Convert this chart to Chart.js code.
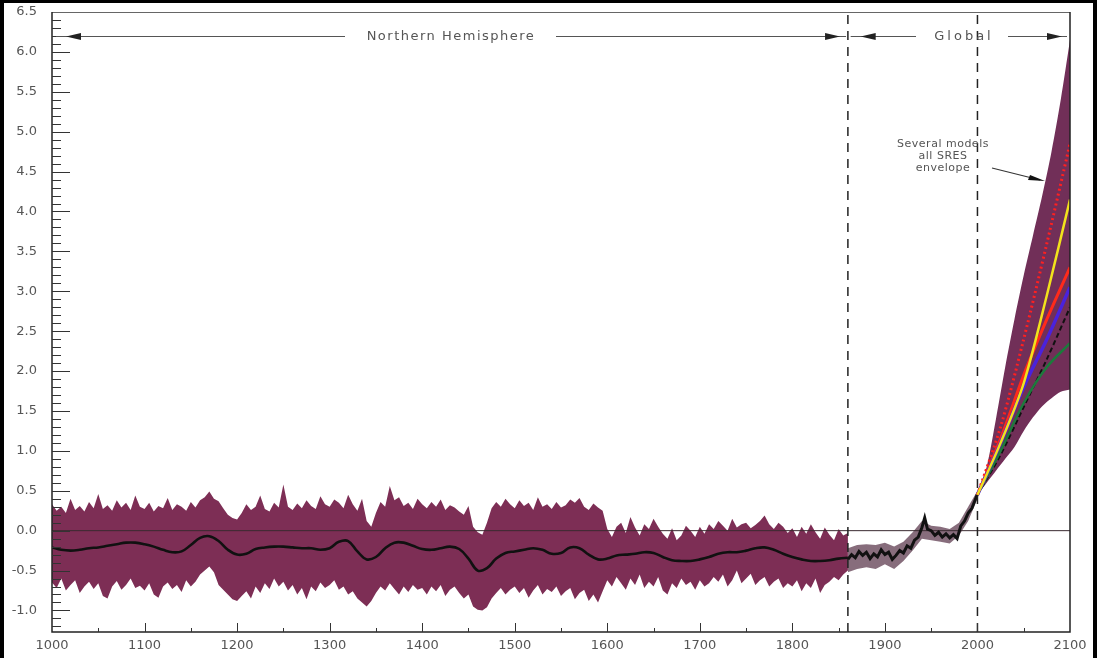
<!DOCTYPE html>
<html>
<head>
<meta charset="utf-8">
<script src="https://cdn.jsdelivr.net/npm/chart.js@4.4.1/dist/chart.umd.min.js"></script>
<style>
  html, body { margin: 0; padding: 0; background: #fff; }
  #wrap { position: relative; width: 1097px; height: 658px; }
  #frame { position: absolute; left: 0; top: 0; width: 1097px; height: 658px; box-sizing: border-box;
           border-left: 4px solid #000; border-top: 3px solid #000; border-right: 4px solid #000; pointer-events: none; }
</style>
</head>
<body>
<div id="wrap">
  <canvas id="myChart" width="1097" height="658"></canvas>
  <div id="frame"></div>
</div>
<script>
// tick labels
const xTickLabels = [1000, 1100, 1200, 1300, 1400, 1500, 1600, 1700, 1800, 1900, 2000, 2100];
const yTickLabels = [-1.0, -0.5, 0.0, 0.5, 1.0, 1.5, 2.0, 2.5, 3.0, 3.5, 4.0, 4.5, 5.0, 5.5, 6.0, 6.5];

// Northern Hemisphere reconstruction, 5-year steps 1000..1860
const nhStart = 1000, nhStep = 5;
const nhUpper = [
  0.33, 0.25, 0.30, 0.22, 0.40, 0.26, 0.31, 0.24, 0.36, 0.28, 0.46, 0.27, 0.32, 0.25, 0.38, 0.29, 0.35, 0.26, 0.44, 0.30,
  0.27, 0.35, 0.24, 0.31, 0.28, 0.41, 0.26, 0.33, 0.30, 0.25, 0.36, 0.29, 0.38, 0.42, 0.49, 0.40, 0.37, 0.28, 0.20, 0.16,
  0.14, 0.22, 0.33, 0.26, 0.30, 0.44, 0.27, 0.24, 0.35, 0.29, 0.58, 0.30, 0.26, 0.34, 0.28, 0.38, 0.31, 0.27, 0.43, 0.33,
  0.30, 0.39, 0.35, 0.28, 0.45, 0.33, 0.25, 0.40, 0.12, 0.05, 0.22, 0.36, 0.30, 0.56, 0.38, 0.42, 0.31, 0.35, 0.27, 0.40,
  0.33, 0.28, 0.36, 0.30, 0.39, 0.26, 0.32, 0.29, 0.24, 0.20, 0.31, 0.05, -0.02, -0.05, 0.10, 0.28, 0.36, 0.30, 0.40, 0.33,
  0.28, 0.38, 0.31, 0.35, 0.26, 0.42, 0.30, 0.33, 0.27, 0.36, 0.29, 0.32, 0.39, 0.35, 0.41, 0.30, 0.26, 0.34, 0.29, 0.25,
  0.02, -0.08, 0.05, 0.10, -0.03, 0.17, 0.04, -0.06, 0.08, 0.02, 0.15, 0.05, -0.04, -0.10, 0.03, -0.12, -0.06, 0.06, 0.00, -0.08,
  0.05, -0.04, 0.08, 0.02, 0.12, 0.06, 0.00, 0.15, 0.04, 0.08, 0.10, 0.03, 0.07, 0.12, 0.19, 0.08, 0.02, 0.10, 0.05, -0.03,
  0.03, -0.08, 0.05, -0.04, 0.08, -0.02, -0.10, 0.04, -0.05, -0.12, 0.02, -0.06, -0.03
];
const nhLower = [
  -0.65, -0.72, -0.60, -0.75, -0.68, -0.62, -0.78, -0.70, -0.64, -0.73, -0.66, -0.82, -0.85, -0.70, -0.63, -0.74, -0.68, -0.60, -0.72, -0.69,
  -0.75, -0.66, -0.80, -0.84, -0.70, -0.65, -0.73, -0.68, -0.77, -0.62, -0.70, -0.64, -0.55, -0.50, -0.45, -0.52, -0.68, -0.74, -0.80, -0.86,
  -0.88, -0.82, -0.76, -0.85, -0.70, -0.78, -0.66, -0.73, -0.60, -0.70, -0.64, -0.75, -0.68, -0.80, -0.72, -0.86, -0.70, -0.76, -0.65, -0.72,
  -0.68, -0.62, -0.74, -0.70, -0.80, -0.76, -0.85, -0.90, -0.95, -0.88, -0.78, -0.70, -0.75, -0.66, -0.73, -0.80, -0.70, -0.77, -0.68, -0.74,
  -0.72, -0.80, -0.70, -0.76, -0.68, -0.82, -0.74, -0.70, -0.78, -0.85, -0.80, -0.95, -0.99, -1.00, -0.96, -0.85, -0.78, -0.72, -0.80, -0.74,
  -0.70, -0.78, -0.72, -0.84, -0.75, -0.68, -0.80, -0.73, -0.77, -0.70, -0.82, -0.76, -0.72, -0.86, -0.78, -0.74, -0.88, -0.80, -0.90, -0.76,
  -0.62, -0.70, -0.58, -0.66, -0.74, -0.60, -0.68, -0.55, -0.72, -0.64, -0.70, -0.58, -0.75, -0.80, -0.66, -0.72, -0.60, -0.68, -0.64, -0.74,
  -0.62, -0.70, -0.66, -0.58, -0.64, -0.55, -0.70, -0.62, -0.50, -0.66, -0.60, -0.54, -0.68, -0.62, -0.58, -0.70, -0.64, -0.60, -0.72, -0.66,
  -0.70, -0.62, -0.76, -0.66, -0.72, -0.60, -0.78, -0.68, -0.64, -0.58, -0.62, -0.55, -0.50
];

// smoothed NH curve, 10-year steps 1000..1860
const smoothStep = 10;
const nhSmooth = [
  -0.21, -0.24, -0.25, -0.24, -0.22, -0.21, -0.19, -0.17, -0.15, -0.15,
  -0.17, -0.20, -0.24, -0.27, -0.26, -0.18, -0.09, -0.07, -0.13, -0.24,
  -0.30, -0.29, -0.23, -0.21, -0.20, -0.20, -0.21, -0.22, -0.22, -0.24,
  -0.22, -0.14, -0.13, -0.26, -0.36, -0.33, -0.22, -0.15, -0.15, -0.19,
  -0.23, -0.24, -0.22, -0.20, -0.23, -0.35, -0.50, -0.47, -0.35, -0.28,
  -0.26, -0.24, -0.22, -0.24, -0.29, -0.28, -0.21, -0.22, -0.30, -0.36,
  -0.35, -0.31, -0.30, -0.29, -0.27, -0.28, -0.33, -0.37, -0.38, -0.38,
  -0.36, -0.33, -0.29, -0.27, -0.27, -0.25, -0.22, -0.21, -0.24, -0.29,
  -0.33, -0.36, -0.38, -0.38, -0.37, -0.35, -0.34
];

// instrumental record 1860..2000
const instYears = [1860, 1864, 1868, 1872, 1876, 1880, 1884, 1888, 1892, 1896, 1900, 1904, 1908, 1912, 1916, 1920,
                   1924, 1928, 1932, 1936, 1940, 1943, 1946, 1950, 1954, 1958, 1962, 1966, 1970, 1974, 1978, 1982,
                   1986, 1990, 1994, 1998, 2000];
const instValues = [-0.36, -0.30, -0.34, -0.26, -0.31, -0.27, -0.35, -0.29, -0.33, -0.24, -0.30, -0.27, -0.36, -0.31, -0.25, -0.28,
                    -0.19, -0.22, -0.12, -0.08, 0.04, 0.16, 0.02, 0.00, -0.06, -0.02, -0.08, -0.04, -0.09, -0.05, -0.10, 0.06,
                    0.12, 0.22, 0.28, 0.40, 0.46];
const instBandYears = [1860, 1870, 1880, 1890, 1900, 1910, 1920, 1930, 1940, 1950, 1960, 1970, 1980, 1990, 2000];
const instUpper = [-0.22, -0.18, -0.17, -0.18, -0.15, -0.20, -0.14, -0.02, 0.12, 0.06, 0.05, 0.02, 0.10, 0.30, 0.50];
const instLower = [-0.52, -0.48, -0.46, -0.48, -0.42, -0.48, -0.38, -0.25, -0.10, -0.12, -0.14, -0.16, -0.06, 0.12, 0.40];

// projections 2000..2100
const projYears = [2000, 2010, 2020, 2030, 2040, 2050, 2060, 2070, 2080, 2090, 2100];
const envUpper = [0.45, 0.80, 1.40, 2.05, 2.65, 3.20, 3.70, 4.20, 4.75, 5.40, 6.15];
const envLower = [0.45, 0.60, 0.75, 0.90, 1.05, 1.25, 1.42, 1.56, 1.66, 1.74, 1.77];

const modelYears = [2000, 2025, 2050, 2075, 2100];
const modelRedDot = [0.45, 1.30, 2.40, 3.60, 4.85];
const modelYellow = [0.45, 1.10, 1.85, 2.95, 4.15];
const modelRed = [0.45, 1.15, 1.95, 2.65, 3.30];
const modelBlue = [0.45, 1.10, 1.80, 2.40, 3.05];
const modelBlack = [0.45, 0.95, 1.55, 2.15, 2.80];
const modelGreen = [0.45, 1.00, 1.60, 2.05, 2.35];

const dividerYears = [1860, 2000];

const X_MIN = 1000, X_MAX = 2100, Y_MIN = -1.27, Y_MAX = 6.5;
const BAND = "#7d2e55";
const ENVELOPE = "#712f58";
const FONT = "'DejaVu Sans', 'Liberation Sans', Arial, sans-serif";

const pts = (xs, ys) => ys.map((v, i) => ({ x: xs[i], y: v }));
const stepPts = (start, step, ys) => ys.map((v, i) => ({ x: start + i * step, y: v }));

const datasets = [
  // NH band
  { data: stepPts(nhStart, nhStep, nhUpper), borderWidth: 0, backgroundColor: BAND, fill: "+1", order: 20 },
  { data: stepPts(nhStart, nhStep, nhLower), borderWidth: 0, fill: false, order: 21 },
  // instrumental band
  { data: pts(instBandYears, instUpper), borderWidth: 0, backgroundColor: "rgba(95,60,80,0.75)", fill: "+1", order: 18 },
  { data: pts(instBandYears, instLower), borderWidth: 0, fill: false, order: 19 },
  // projection envelope
  { data: pts(projYears, envUpper), borderWidth: 0, backgroundColor: ENVELOPE, fill: "+1", tension: 0.3, order: 16 },
  { data: pts(projYears, envLower), borderWidth: 0, fill: false, tension: 0.3, order: 17 },
  // zero line
  { data: [{ x: X_MIN, y: 0 }, { x: X_MAX, y: 0 }], borderColor: "#3a2a30", borderWidth: 1, order: 10 },
  // smoothed NH and instrumental
  { data: stepPts(nhStart, smoothStep, nhSmooth), borderColor: "#111", borderWidth: 2.6, tension: 0.4, order: 5 },
  { data: pts(instYears, instValues), borderColor: "#111", borderWidth: 3, order: 5 },
  // models
  { data: pts(modelYears, modelGreen), borderColor: "#1c7a3c", borderWidth: 2.5, tension: 0.3, order: 4 },
  { data: pts(modelYears, modelBlack), borderColor: "#111", borderWidth: 2, borderDash: [5, 3], tension: 0.3, order: 4 },
  { data: pts(modelYears, modelBlue), borderColor: "#4a22dd", borderWidth: 3.5, tension: 0.3, order: 3 },
  { data: pts(modelYears, modelRed), borderColor: "#ff2a1a", borderWidth: 3, tension: 0.3, order: 3 },
  { data: pts(modelYears, modelYellow), borderColor: "#f2e21c", borderWidth: 2.5, tension: 0.3, order: 2 },
  { data: pts(modelYears, modelRedDot), borderColor: "#ff2020", borderWidth: 3, borderDash: [2, 3], tension: 0.3, order: 2 },
  // dividers
  ...dividerYears.map(yr => ({
    data: [{ x: yr, y: Y_MIN }, { x: yr, y: Y_MAX }], borderColor: "#222", borderWidth: 1.5, borderDash: [9, 7], order: 1
  }))
];

// frame, inward ticks and annotations
const decor = {
  id: "decor",
  afterDraw(chart) {
    const ctx = chart.ctx;
    const { left, right, top, bottom } = chart.chartArea;
    const xs = chart.scales.x, ys = chart.scales.y;
    ctx.save();
    ctx.strokeStyle = "#666";
    ctx.lineWidth = 1;
    ctx.beginPath(); ctx.moveTo(left, top + 0.5); ctx.lineTo(right, top + 0.5); ctx.stroke();
    ctx.strokeStyle = "#222";
    ctx.lineWidth = 1.5;
    ctx.beginPath();
    ctx.moveTo(left, top); ctx.lineTo(left, bottom); ctx.lineTo(right, bottom); ctx.lineTo(right, top);
    ctx.stroke();
    // y ticks
    ctx.lineWidth = 1;
    ctx.strokeStyle = "#333";
    for (let i = -12; i <= 64; i++) {
      const y = Math.round(ys.getPixelForValue(i / 10)) + 0.5;
      const len = i % 5 === 0 ? 18 : 9;
      ctx.beginPath(); ctx.moveTo(left, y); ctx.lineTo(left + len, y); ctx.stroke();
    }
    // x ticks
    for (let yr = 1050; yr < 2100; yr += 50) {
      const x = Math.round(xs.getPixelForValue(yr)) + 0.5;
      const len = yr % 100 === 0 ? 9 : 4;
      ctx.beginPath(); ctx.moveTo(x, bottom); ctx.lineTo(x, bottom - len); ctx.stroke();
    }
    // arrows
    const arrowY = Math.round(ys.getPixelForValue(6.2)) + 0.5;
    const head = (x, y, dir) => {
      ctx.beginPath();
      ctx.moveTo(x, y); ctx.lineTo(x - dir * 15, y - 3.5); ctx.lineTo(x - dir * 15, y + 3.5); ctx.closePath();
      ctx.fill();
    };
    ctx.strokeStyle = "#555";
    ctx.fillStyle = "#222";
    ctx.lineWidth = 1.2;
    const seg = (x1, x2) => { ctx.beginPath(); ctx.moveTo(x1, arrowY); ctx.lineTo(x2, arrowY); ctx.stroke(); };
    const nhEnd = xs.getPixelForValue(1858), glStart = xs.getPixelForValue(1863);
    seg(left + 4, 345); seg(556, nhEnd);
    head(left + 14, arrowY, -1); head(nhEnd - 6, arrowY, 1);
    seg(glStart, 916); seg(1008, right - 3);
    head(glStart + 10, arrowY, -1); head(right - 8, arrowY, 1);
    ctx.font = "13px " + FONT;
    ctx.fillStyle = "#555";
    ctx.textAlign = "center";
    ctx.textBaseline = "middle";
    ctx.letterSpacing = "1.5px";
    ctx.fillText("Northern Hemisphere", 451, arrowY);
    ctx.letterSpacing = "3px";
    ctx.fillText("Global", 964, arrowY);
    ctx.letterSpacing = "0.5px";
    ctx.font = "11px " + FONT;
    ctx.fillText("Several models", 943, 144);
    ctx.fillText("all SRES", 943, 156);
    ctx.fillText("envelope", 943, 168);
    ctx.letterSpacing = "0px";
    ctx.strokeStyle = "#333";
    ctx.beginPath(); ctx.moveTo(992, 168); ctx.lineTo(1040, 180); ctx.stroke();
    ctx.fillStyle = "#111";
    ctx.beginPath(); ctx.moveTo(1045, 181); ctx.lineTo(1030, 175); ctx.lineTo(1028, 180); ctx.closePath(); ctx.fill();
    ctx.restore();
  }
};

const ctx = document.getElementById("myChart").getContext("2d");
new Chart(ctx, {
  type: "line",
  data: { datasets },
  options: {
    responsive: false,
    animation: false,
    events: [],
    layout: { padding: { left: 0, top: 12, right: 27, bottom: 0 } },
    elements: { point: { radius: 0 }, line: { tension: 0 } },
    plugins: { legend: { display: false }, tooltip: { enabled: false } },
    scales: {
      x: {
        type: "linear", min: X_MIN, max: X_MAX,
        grid: { display: false, drawTicks: false }, border: { display: false },
        afterBuildTicks: (s) => { s.ticks = xTickLabels.map(v => ({ value: v })); },
        afterFit: (s) => { s.height = 26; s.paddingLeft = 0; s.paddingRight = 0; },
        ticks: {
          padding: 6, maxRotation: 0, autoSkip: false, color: "#555",
          font: { family: FONT, size: 13 },
          callback: (v) => String(v)
        }
      },
      y: {
        type: "linear", min: Y_MIN, max: Y_MAX,
        grid: { display: false, drawTicks: false }, border: { display: false },
        afterBuildTicks: (s) => { s.ticks = yTickLabels.map(v => ({ value: v })); },
        afterFit: (s) => { s.width = 52; s.paddingTop = 0; s.paddingBottom = 0; },
        ticks: {
          padding: 15, autoSkip: false, color: "#555",
          font: { family: FONT, size: 13 },
          callback: (v) => Number(v).toFixed(1)
        }
      }
    }
  },
  plugins: [decor]
});
</script>
</body>
</html>
